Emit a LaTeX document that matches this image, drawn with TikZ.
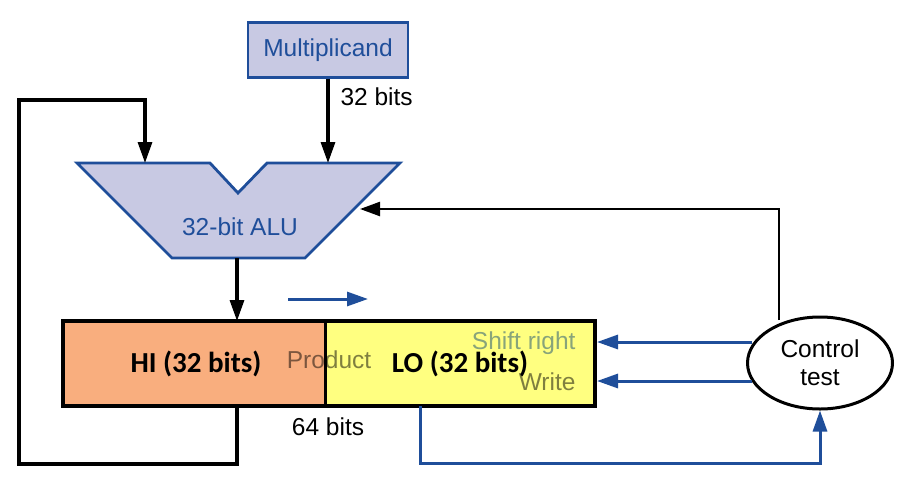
\documentclass[tikz,border=0pt]{standalone}
\usepackage{fontspec}
\setmainfont{Liberation Sans}
\newfontfamily\calfont{Carlito}
\usetikzlibrary{arrows.meta,shapes.geometric}
\definecolor{lav}{HTML}{C8C9E3}
\definecolor{dblue}{HTML}{1F4E9A}
\definecolor{hiorange}{HTML}{F9AE7E}
\definecolor{loyellow}{HTML}{FFFF80}
\definecolor{srgreen}{HTML}{88A47A}
\begin{document}
\begin{tikzpicture}[x=1pt,y=-1pt,
  lbl/.style={font=\fontsize{24.5}{28}\selectfont},
  bluelbl/.style={lbl,text=dblue},
  wire/.style={line width=3.2pt,-{Triangle[length=21pt,width=14pt]}},
  thinwire/.style={line width=2.4pt,-{Triangle[length=20pt,width=14pt]}},
  bwire/.style={line width=3pt,draw=dblue,-{Triangle[length=21pt,width=14pt]},color=dblue},
  bigbold/.style={font=\calfont\bfseries\fontsize{29}{32}\selectfont}]
\useasboundingbox (0,0) rectangle (900,483);
% Multiplicand
\node[draw=dblue,fill=lav,line width=2.8pt,minimum width=160pt,minimum height=55pt,bluelbl] (mc) at (328,50) {Multiplicand};
\node[lbl,anchor=west] (b32) at (337,97) {32 bits};
% ALU
\coordinate (alutl) at (77,163);
\coordinate (alutr) at (400,163);
\coordinate (alubr) at (305,258);
\coordinate (alubl) at (172,258);
\coordinate (notch) at (238,193);
\draw[draw=dblue,fill=lav,line width=2.8pt,line join=miter]
  (alutl) -- (210,163) -- (notch) -- (267,163) -- (alutr) -- (alubr) -- (alubl) -- cycle;
\node[bluelbl] (alu) at (240,227) {32-bit ALU};
\coordinate (aluinL) at (145,163);
\coordinate (aluinR) at (328,163);
\coordinate (aluout) at (237,258);
\coordinate (aluside) at (360,209);
% Product register
\draw[fill=hiorange,draw=none] (63,321) rectangle (325,406);
\draw[fill=loyellow,draw=none] (325,321) rectangle (595,406);
\node[bigbold] (hi) at (196,364) {HI (32 bits)};
\node[lbl,text opacity=0.5] (prod) at (329,360) {Product};
\node[bigbold] (lo) at (460,364) {LO (32 bits)};
\node[lbl,anchor=east,text=srgreen] (sr) at (579,343) {Shift right};
\node[lbl,anchor=east,text opacity=0.5] (wr) at (579,382) {Write};
\draw[line width=3.3pt] (63,321) rectangle (595,406);
\draw[line width=3pt] (325,321) -- (325,406);
\coordinate (prodtop) at (237,321);
\coordinate (hibot) at (237,406);
\coordinate (lobot) at (420,406);
\coordinate (srin) at (597,342);
\coordinate (wrin) at (597,381);
\node[lbl] (b64) at (328,427) {64 bits};
% shift arrow
\coordinate (sha) at (288,299);
\coordinate (shb) at (368,299);
\draw[bwire] (sha) -- (shb);
% Control
\node[draw,ellipse,line width=3pt,minimum width=145pt,minimum height=92pt,align=center,lbl,inner sep=0pt] (ctl) at (820,363) {Control\\[0pt]test};
% connections
\draw[wire] (mc.south) -- (aluinR);
\draw[wire] (aluout) -- (prodtop);
\draw[wire] (hibot) -- (237,464) -- (19,464) -- (19,100) -- (145,100) -- (aluinL);
\draw[thinwire] (779,320) -- (779,209) -- (aluside);
\draw[bwire] (752,342) -- (srin);
\draw[bwire] (752,381) -- (wrin);
\draw[bwire] (lobot) -- (420,463) -- (820,463) -- (ctl.south);
\end{tikzpicture}
\end{document}
